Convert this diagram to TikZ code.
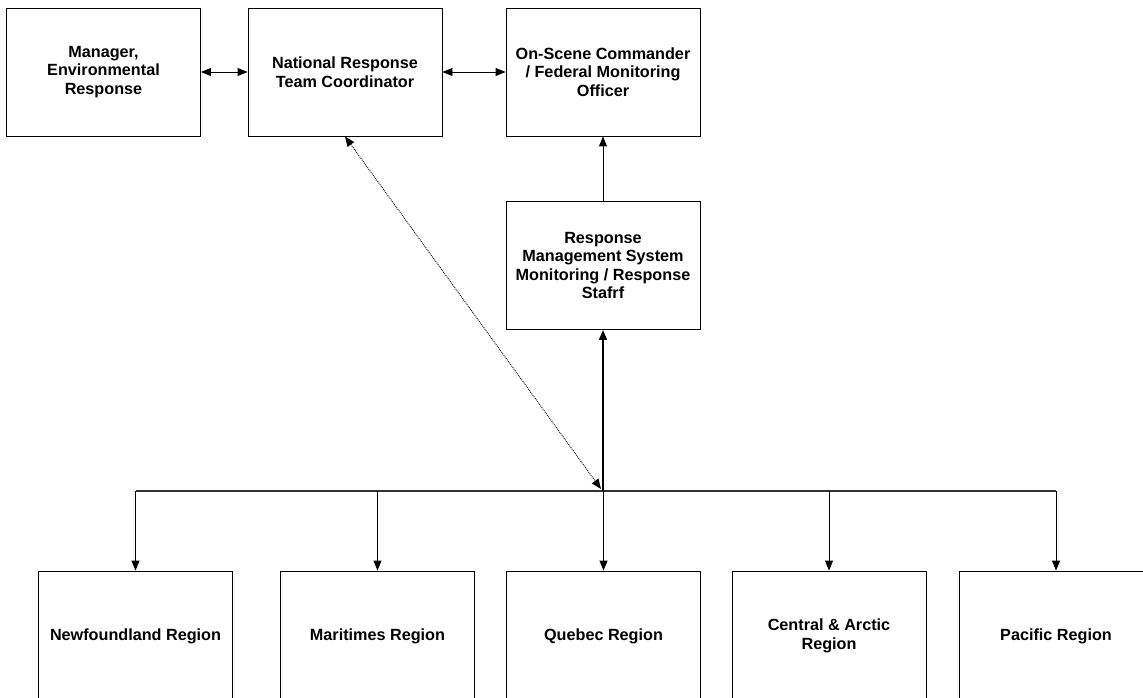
\documentclass[tikz,border=0pt]{standalone}
\usepackage{fontspec}
\setmainfont{Liberation Sans}
\usetikzlibrary{arrows.meta}
\begin{document}
\begin{tikzpicture}[x=1pt,y=-1pt,
  box/.style={draw=black,line width=0.9pt,minimum width=194pt,minimum height=128pt,inner sep=0pt,
    align=center,font=\fontsize{16.2}{18.5}\selectfont\bfseries},
  conn/.style={line width=0.9pt,-{Triangle[length=10pt,width=8pt]}},
  dconn/.style={line width=0.9pt,{Triangle[length=10pt,width=8pt]}-{Triangle[length=10pt,width=8pt]}},
  dotconn/.style={line width=0.9pt,densely dotted,{Triangle[length=10pt,width=8pt]}-{Triangle[length=10pt,width=8pt]}},
  bus/.style={line width=1.6pt,draw=black!80}]
\useasboundingbox (0,0) rectangle (1143,698);
% top row
\node[box] (mgr) at (103.5,72) {Manager,\\Environmental\\Response};
\node[box] (nrt) at (345,72) {National Response\\Team Coordinator};
\node[box] (osc) at (603,72) {On-Scene Commander\\/ Federal Monitoring\\Officer};
\node[box] (rms) at (603,265.5) {Response\\Management System\\Monitoring / Response\\Stafrf};
% bottom row
\node[box,minimum height=130pt] (nfl) at (135.5,636) {Newfoundland Region};
\node[box,minimum height=130pt] (mar) at (377.5,636) {Maritimes Region};
\node[box,minimum height=130pt] (que) at (603.5,636) {Quebec Region};
\node[box,minimum height=130pt] (cen) at (829,636) {Central \& Arctic\\Region};
\node[box,minimum height=130pt] (pac) at (1056,636) {Pacific Region};
% connectors
\draw[dconn] (mgr.east) -- (nrt.west);
\draw[dconn] (nrt.east) -- (osc.west);
\draw[conn] (rms.north) -- (osc.south);
\coordinate (J) at (603,491);
\coordinate (busL) at (135.5,491);
\coordinate (busR) at (1056,491);
\draw[bus] (busL) -- (busR);
\draw[line width=1.6pt,-{Triangle[length=10pt,width=8pt]}] (J) -- (rms.south);
\foreach \n in {nfl,mar,que,cen,pac}{
  \draw[conn] (J -| \n.north) -- (\n.north);
}
\coordinate (Jd) at (601,489);
\draw[dotconn] (nrt.south) -- (Jd);
\end{tikzpicture}
\end{document}
